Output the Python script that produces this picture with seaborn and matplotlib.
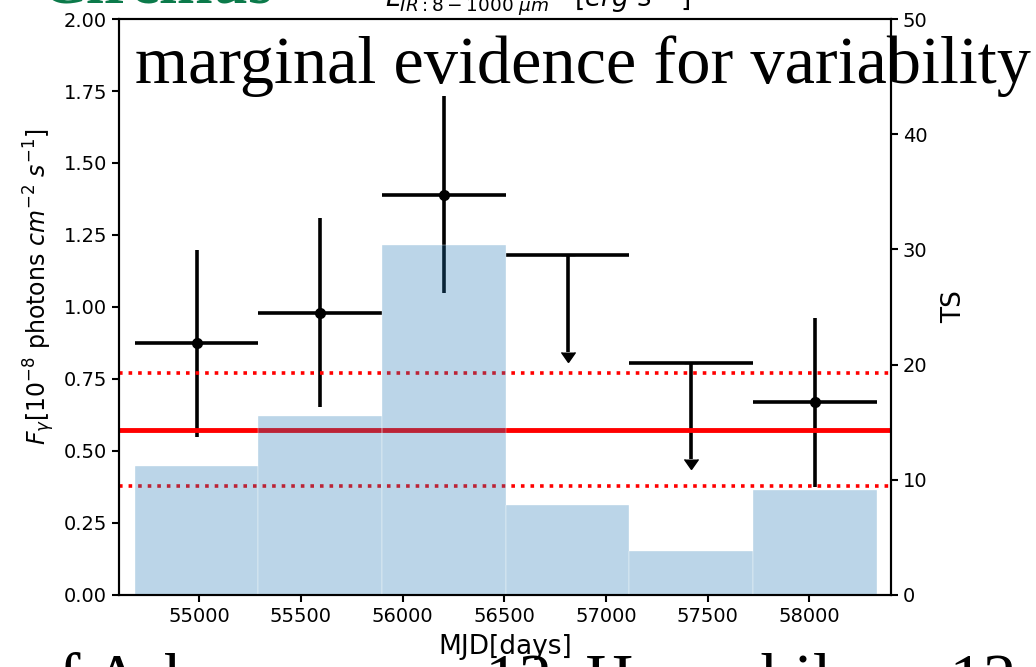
import numpy as np
import matplotlib
matplotlib.use("Agg")
import matplotlib.pyplot as plt
import seaborn as sns

# light curve bins (MJD), ~608 d each
bin_edges = [54683, 55291, 55899, 56508, 57116, 57724, 58333]
ts_values = [11.2, 15.5, 30.4, 7.8, 3.8, 9.1]

# detections
det_mjd = [54987, 55595, 56204, 58029]
det_flux = [0.874, 0.980, 1.389, 0.670]
det_err_lo = [0.326, 0.326, 0.339, 0.294]
det_err_hi = [0.324, 0.329, 0.344, 0.291]

# upper limits
ul_mjd = [56812, 57420]
ul_flux = [1.181, 0.804]
ul_arrow = [0.336, 0.333]

mean_flux = 0.573
mean_band = [0.378, 0.770]

sns.set_theme(style="ticks", rc={
    "axes.edgecolor": "black", "axes.linewidth": 1.5,
    "xtick.color": "black", "ytick.color": "black",
    "xtick.major.size": 5, "ytick.major.size": 5,
    "xtick.major.width": 1.5, "ytick.major.width": 1.5,
    "xtick.labelsize": 14, "ytick.labelsize": 14,
    "axes.labelsize": 14, "axes.labelcolor": "black", "text.color": "black",
})
plt.rcParams["font.family"] = ["DejaVu Sans"]

fig = plt.figure(figsize=(10.36, 6.67), dpi=100)
ax = fig.add_axes([0.1149, 0.108, 0.745, 0.8635])
ax2 = ax.twinx()

edges = np.array(bin_edges, dtype=float)
centers = (edges[:-1] + edges[1:]) / 2
half = np.diff(edges) / 2

# TS histogram on the right axis
sns.histplot(x=centers, weights=ts_values, bins=bin_edges, ax=ax2,
             color="#1f77b4", alpha=0.3, edgecolor="white", linewidth=0.25)
ax2.set_ylim(0, 50)
ax2.set_ylabel("TS", fontsize=19, labelpad=10)

# flux points
ax.errorbar(det_mjd, det_flux, yerr=[det_err_lo, det_err_hi],
            xerr=half[[0, 1, 2, 5]], fmt="o", color="black", ms=7,
            elinewidth=2.6, capsize=0)
# upper limits: bin width bar + downward arrow
ax.errorbar(ul_mjd, ul_flux, xerr=half[[3, 4]], fmt="none",
            ecolor="black", elinewidth=2.6, capsize=0)
ax.errorbar(ul_mjd, ul_flux, yerr=ul_arrow, uplims=True, fmt="none",
            color="black", ecolor="black", elinewidth=2.6, capsize=5)

ax.axhline(mean_flux, color="red", lw=3.5)
for v in mean_band:
    ax.axhline(v, color="red", lw=2.6, ls=":")

ax.set_xlim(54605, 58402)
ax.set_ylim(0, 2.0)
ax.set_xticks([55000, 55500, 56000, 56500, 57000, 57500, 58000])
ax.set_xlabel("MJD[days]", fontsize=19, labelpad=6)
ax.set_ylabel(r"$F_{\gamma}[10^{-8}$ photons $cm^{-2}$ $s^{-1}]$", fontsize=17)
ax.yaxis.set_label_coords(-0.080, 0.535)
ax2.set_ylim(0, 50)

# surrounding page text that overlaps the crop
fig.text(0.039, 0.996, "Circinus", family="Liberation Serif", weight="bold",
         fontsize=46, color="#0b7a4a", va="baseline")
fig.text(0.372, 0.991, r"$L_{IR:8-1000\ \mu m}$   $[erg\ s^{-1}]$",
         fontsize=19, va="baseline")
fig.text(0.130, 0.8756, "marginal evidence for variability",
         family="Liberation Serif", fontsize=49.2, va="baseline", zorder=10)
fig.text(0.024, -0.05, "of Ark a new era 12  Hen while as 12",
         family="Liberation Serif", fontsize=48, va="baseline")

fig.savefig("out.png", dpi=100)
